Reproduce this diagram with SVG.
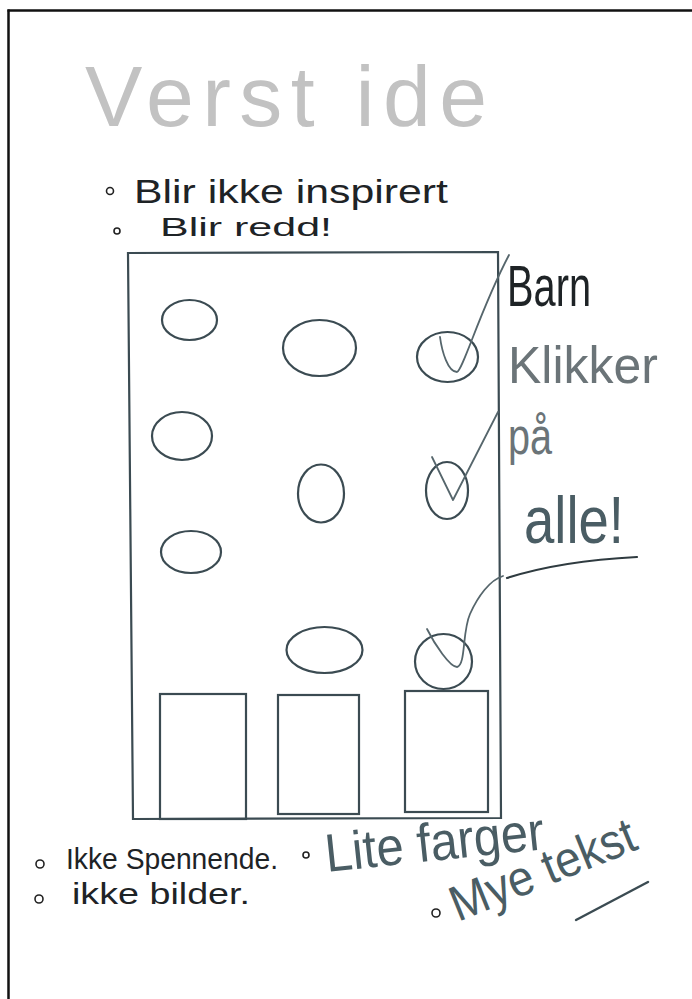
<svg xmlns="http://www.w3.org/2000/svg" width="692" height="999" viewBox="0 0 692 999">
<style>
.shape{fill:none;stroke:#3b4b52;stroke-width:2.2}
.hand{font-family:"Liberation Sans","DejaVu Sans",sans-serif}
.dark{fill:#1e2326}
.slate{fill:#4a5d64}
.grey{fill:#6b7478}
.check{fill:none;stroke:#56666c;stroke-width:1.8;stroke-linecap:round;stroke-linejoin:round}
.bullet{fill:none;stroke:#222;stroke-width:1.6}
</style>
<rect width="692" height="999" fill="#fff"/>
<g id="frame">
<line x1="7.5" y1="10.5" x2="692" y2="10.5" stroke="#111" stroke-width="2.5"/>
<line x1="8.5" y1="9.5" x2="8.5" y2="999" stroke="#111" stroke-width="2.5"/>
</g>
<g id="title">
<text class="hand" x="85" y="126" font-size="86" fill="#c2c2c2" textLength="402" lengthAdjust="spacing">Verst ide</text>
</g>
<g id="notes-top">
<circle class="bullet" cx="110" cy="191" r="3.5"/>
<text class="hand dark" x="134" y="203" font-size="33" textLength="314" lengthAdjust="spacingAndGlyphs">Blir ikke inspirert</text>
<circle class="bullet" cx="117" cy="231" r="3"/>
<text class="hand dark" x="160" y="236" font-size="26" textLength="172" lengthAdjust="spacingAndGlyphs">Blir  redd!</text>
</g>
<g id="screen">
<path class="shape" d="M128,253 L498,252 L501,818 L133,819 Z"/>
</g>
<g id="buttons">
<ellipse id="b1" class="shape" cx="189.5" cy="320" rx="27.5" ry="20"/>
<ellipse id="b2" class="shape" cx="319.5" cy="348" rx="36.5" ry="28"/>
<ellipse id="b3" class="shape" cx="447.5" cy="357" rx="30.5" ry="25"/>
<ellipse id="b4" class="shape" cx="182" cy="436" rx="30" ry="24"/>
<ellipse id="b5" class="shape" cx="321" cy="493.5" rx="23" ry="29"/>
<ellipse id="b6" class="shape" cx="447" cy="490.5" rx="21" ry="28.5"/>
<ellipse id="b7" class="shape" cx="191" cy="552" rx="30" ry="21"/>
<ellipse id="b8" class="shape" cx="324.5" cy="650" rx="38" ry="23"/>
<ellipse id="b9" class="shape" cx="443.5" cy="661.5" rx="28.5" ry="27.5"/>
</g>
<g id="cards">
<rect id="c1" class="shape" x="160" y="694" width="86" height="125"/>
<rect id="c2" class="shape" x="278" y="695" width="81" height="119"/>
<rect id="c3" class="shape" x="405" y="691" width="83" height="121"/>
</g>
<g id="connectors">
<path class="check" d="M440,337 C442,352 448,372 457,372 C463,370 480,310 509,255"/>
<path class="check" d="M432,457 L453,500 L498,412"/>
<path class="check" stroke="#8a9498" d="M427,629 C435,645 450,667 457,667 C466,665 462,632 470,614 C478,596 490,580 503,576"/>
</g>
<g id="label-right">
<text class="hand dark" x="507" y="306" font-size="58" textLength="84" lengthAdjust="spacingAndGlyphs">Barn</text>
<text class="hand grey" x="508" y="383" font-size="52" textLength="150" lengthAdjust="spacingAndGlyphs">Klikker</text>
<text class="hand grey" x="508" y="454" font-size="52" textLength="44" lengthAdjust="spacingAndGlyphs">på</text>
<text class="hand slate" x="524" y="543" font-size="66" textLength="100" lengthAdjust="spacingAndGlyphs">alle!</text>
<path d="M507,578 Q560,561 637,557" fill="none" stroke="#2f3b40" stroke-width="2.2" stroke-linecap="round"/>
</g>
<g id="notes-bottom">
<circle class="bullet" cx="40" cy="864" r="4"/>
<text class="hand dark" x="66" y="869" font-size="30" textLength="212" lengthAdjust="spacingAndGlyphs">Ikke Spennende.</text>
<circle class="bullet" cx="306" cy="855" r="3"/>
<circle class="bullet" cx="39" cy="899" r="4"/>
<text class="hand dark" x="72" y="904" font-size="30" textLength="178" lengthAdjust="spacingAndGlyphs">ikke bilder.</text>
<text class="hand slate" x="327" y="872" font-size="54" textLength="220" lengthAdjust="spacingAndGlyphs" transform="rotate(-6 327 872)">Lite farger</text>
<circle class="bullet" cx="436" cy="913" r="4"/>
<text class="hand slate" x="458" y="922" font-size="50" textLength="196" lengthAdjust="spacingAndGlyphs" transform="rotate(-22 458 922)">Mye tekst</text>
<path d="M576,920 L648,882" fill="none" stroke="#3b4b52" stroke-width="2.4" stroke-linecap="round"/>
</g>
</svg>
